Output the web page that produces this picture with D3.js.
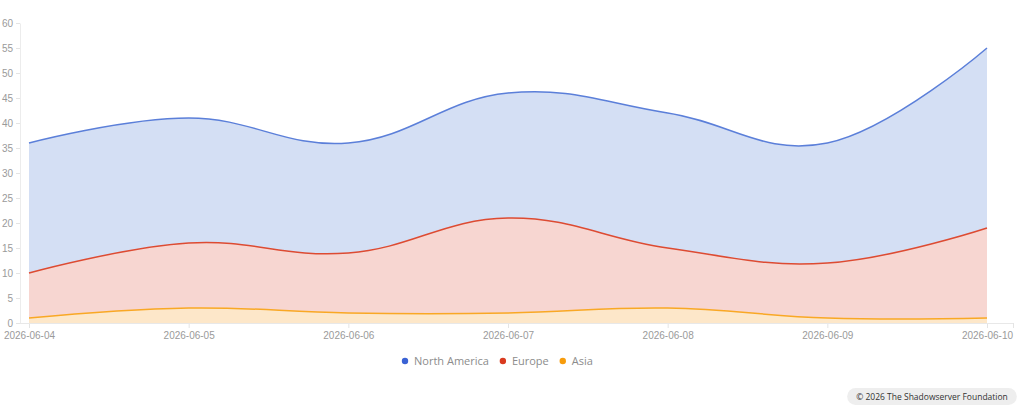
<!DOCTYPE html>
<html>
<head>
<meta charset="utf-8">
<script src="https://cdn.jsdelivr.net/npm/d3@7"></script>
<style>
  html, body { margin: 0; padding: 0; background: #fff; }
  body { width: 1024px; height: 410px; overflow: hidden; font-family: "Open Sans", "Noto Sans", sans-serif; }
  .axis text { fill: #9a9a9a; font-size: 10px; }
</style>
</head>
<body>
<div id="chart"></div>
<script>
// ============================================================
// Data
// ============================================================
const dates = ['2026-06-04', '2026-06-05', '2026-06-06', '2026-06-07', '2026-06-08', '2026-06-09', '2026-06-10'];
const northAmerica = [36, 41, 36, 46, 42, 36, 55];
const europe = [10, 16, 14, 21, 15, 12, 19];
const asia = [1, 3, 2, 2, 3, 1, 1];
const yTicks = [0, 5, 10, 15, 20, 25, 30, 35, 40, 45, 50, 55, 60];

const series = [
    { name: 'North America', values: northAmerica, line: '#5b7fd9', fill: '#d4dff4', dot: '#3a62d4' },
    { name: 'Europe', values: europe, line: '#dd4b32', fill: '#f7d6d1', dot: '#d93a1f' },
    { name: 'Asia', values: asia, line: '#f9a825', fill: '#fde7c9', dot: '#f79c0c' }
];

// ============================================================
// Layout
// ============================================================
const W = 1024, H = 410;
const axisLeft = 20, axisRight = 1014;
const plotTop = 23, plotBottom = 323;

const svg = d3.select('#chart').append('svg')
    .attr('width', W)
    .attr('height', H);

const x = d3.scalePoint().domain(dates).range([29, 987]);
const y = d3.scaleLinear().domain([0, 60]).range([plotBottom, plotTop]);

// Y axis
const yAxis = svg.append('g')
    .attr('class', 'axis')
    .attr('transform', `translate(${axisLeft},0)`)
    .call(d3.axisLeft(y).tickValues(yTicks).tickSize(4).tickPadding(3).tickSizeOuter(0));
yAxis.select('.domain').attr('stroke', '#ececec');
yAxis.selectAll('.tick line').attr('stroke', '#e4e4e4');

// X axis
const xAxis = svg.append('g')
    .attr('class', 'axis')
    .attr('transform', `translate(0,${plotBottom})`)
    .call(d3.axisBottom(x).tickSize(5).tickPadding(4).tickSizeOuter(0));
xAxis.select('.domain').remove();
xAxis.selectAll('.tick line').attr('stroke', '#e4e4e4');
xAxis.append('line')
    .attr('x1', axisLeft).attr('x2', axisRight)
    .attr('y1', 0.5).attr('y2', 0.5)
    .attr('stroke', '#e8e8e8');
xAxis.append('line')
    .attr('x1', axisRight - 0.5).attr('x2', axisRight - 0.5)
    .attr('y1', 0).attr('y2', 5)
    .attr('stroke', '#e4e4e4');

// ============================================================
// Areas
// ============================================================
const curve = d3.curveCardinal.tension(-0.2);

const area = d3.area()
    .x((d, i) => x(dates[i]))
    .y0(y(0))
    .y1(d => y(d))
    .curve(curve);

const line = d3.line()
    .x((d, i) => x(dates[i]))
    .y(d => y(d))
    .curve(curve);

const marks = svg.append('g');
series.forEach(s => {
    marks.append('path')
        .attr('d', area(s.values))
        .attr('fill', s.fill);
});
series.forEach(s => {
    marks.append('path')
        .attr('d', line(s.values))
        .attr('fill', 'none')
        .attr('stroke', s.line)
        .attr('stroke-width', 1.5);
});

// ============================================================
// Legend
// ============================================================
const legend = svg.append('g').attr('transform', 'translate(0,361)');
let lx = 405;
series.forEach(s => {
    legend.append('circle')
        .attr('cx', lx).attr('cy', 0).attr('r', 3.2)
        .attr('fill', s.dot);
    const t = legend.append('text')
        .attr('x', lx + 9).attr('y', 4)
        .attr('fill', '#8c8c8c')
        .style('font-size', '11px')
        .text(s.name);
    lx += 9 + t.node().getComputedTextLength() + 14;
});

// ============================================================
// Copyright badge
// ============================================================
const badge = svg.append('g').attr('transform', 'translate(848,388)');
const bt = badge.append('text')
    .attr('x', 84).attr('y', 11.5)
    .attr('text-anchor', 'middle')
    .attr('fill', '#333')
    .style('font-size', '8.5px')
    .text('© 2026 The Shadowserver Foundation');
const bw = bt.node().getComputedTextLength() + 18;
badge.insert('rect', 'text')
    .attr('x', 84 - bw / 2).attr('y', 0)
    .attr('width', bw).attr('height', 17)
    .attr('rx', 8.5)
    .attr('fill', '#eeeeee');
</script>
</body>
</html>
